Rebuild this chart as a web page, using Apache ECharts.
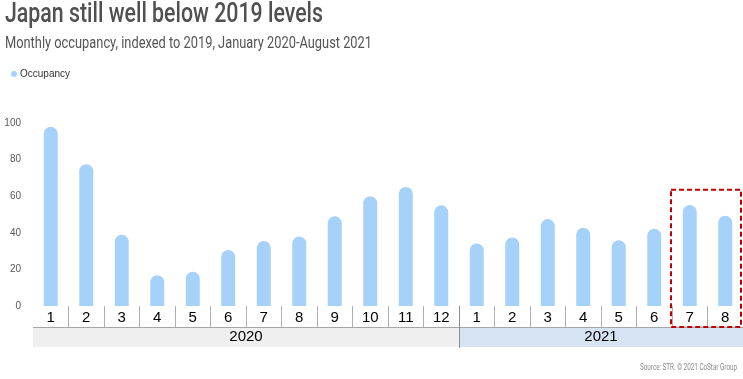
<!DOCTYPE html>
<html><head><meta charset="utf-8">
<script src="https://cdn.jsdelivr.net/npm/echarts@6/dist/echarts.min.js"></script>
<style>html,body{margin:0;padding:0;background:#fff}#c{width:743px;height:379px}</style>
</head><body><div id="c"></div>
<script>
const months = ['1','2','3','4','5','6','7','8','9','10','11','12','1','2','3','4','5','6','7','8'];
const occupancy = [98, 77.5, 39, 16.8, 18.7, 30.6, 35.5, 38, 49, 60, 65, 55, 34.2, 37.5, 47.5, 42.8, 35.9, 42.2, 55.2, 49.3];
const years = ['2020', '2021'];
const yearSpans = [[0, 11], [12, 19]];
const yearColors = ['#efefef', '#d5e3f2'];
const highlight = [18, 19];
const titleText = 'Japan still well below 2019 levels';
const subtitleText = 'Monthly occupancy, indexed to 2019, January 2020-August 2021';
const sourceText = 'Source: STR. © 2021 CoStar Group';

const chart = echarts.init(document.getElementById('c'));
const baseFont = 'Liberation Sans, sans-serif';

function measure(text, font) {
  const cv = document.createElement('canvas').getContext('2d');
  cv.font = font;
  return cv.measureText(text).width;
}

chart.setOption({
  animation: false,
  legend: {left: 6, top: 64, itemWidth: 6, itemHeight: 6, itemGap: 4, icon: 'circle',
    textStyle: {fontSize: 10, color: '#333', fontFamily: baseFont, padding: [0,0,0,-2]},
    data: ['Occupancy']},
  grid: {left: 33, right: 0, top: 123, bottom: 73},
  xAxis: {type: 'category', data: months,
    axisLine: {show: false},
    axisTick: {show: true, interval: (i) => i > 0, length: 21, lineStyle: {color: '#b0b0b0'}},
    axisLabel: {interval: 0, margin: 4, fontSize: 15, color: '#000', fontFamily: baseFont}},
  yAxis: {type: 'value', min: 0, max: 100, interval: 20,
    axisLine: {show: false}, axisTick: {show: false}, splitLine: {show: false},
    axisLabel: {margin: 12, fontSize: 10, color: '#595959', fontFamily: baseFont}},
  series: [{name: 'Occupancy', type: 'bar', data: occupancy, barWidth: 14,
    itemStyle: {color: '#a6d2f9', borderRadius: [7, 7, 0, 0]}}]
});

function scaledText(text, x, y, size, weight, fam, color, targetW, align) {
  const w = measure(text, weight + ' ' + size + 'px ' + fam);
  const s = targetW / w;
  return {type: 'text', x: x, y: y, scaleX: s, scaleY: 1,
    style: {text: text, fontSize: size, fontWeight: weight, fontFamily: fam, fill: color,
      align: align || 'left', verticalAlign: 'top'}, z: 10};
}

function buildGraphics() {
  const c0 = chart.convertToPixel({xAxisIndex: 0}, 0);
  const c1 = chart.convertToPixel({xAxisIndex: 0}, 1);
  const bw = c1 - c0;
  const y0 = chart.convertToPixel({yAxisIndex: 0}, 0);
  const bandTop = y0 + 21;
  const bandH = 20;
  const els = [];
  els.push(scaledText(titleText, 5, 2, 27, '500', 'Roboto', '#505050', 318));
  els.push(scaledText(subtitleText, 5, 35, 17, 'normal', 'Roboto', '#555', 367));
  els.push(scaledText(sourceText, 737, 363, 9, 'normal', 'Roboto', '#8a8a8a', 97, 'right'));
  years.forEach((yr, i) => {
    const x1 = chart.convertToPixel({xAxisIndex: 0}, yearSpans[i][0]) - bw / 2;
    const x2 = chart.convertToPixel({xAxisIndex: 0}, yearSpans[i][1]) + bw / 2;
    els.push({type: 'rect', shape: {x: x1, y: bandTop, width: x2 - x1, height: bandH},
      style: {fill: yearColors[i]}, z: 1});
    els.push({type: 'text', x: (x1 + x2) / 2, y: bandTop + bandH / 2,
      style: {text: yr, fill: '#000', fontSize: 15, fontFamily: baseFont,
        align: 'center', verticalAlign: 'middle'}, z: 2});
  });
  const xs = chart.convertToPixel({xAxisIndex: 0}, yearSpans[0][0]) - bw / 2;
  const xe = chart.convertToPixel({xAxisIndex: 0}, yearSpans[1][1]) + bw / 2;
  els.push({type: 'line', shape: {x1: xs, y1: bandTop + 0.5, x2: xe, y2: bandTop + 0.5},
    style: {stroke: '#a6a6a6', lineWidth: 1}, z: 3});
  const xd = Math.round(chart.convertToPixel({xAxisIndex: 0}, yearSpans[1][0]) - bw / 2) + 0.5;
  els.push({type: 'line', shape: {x1: xd, y1: y0, x2: xd, y2: bandTop + bandH + 1},
    style: {stroke: '#8c8c8c', lineWidth: 1}, z: 3});
  const hx1 = chart.convertToPixel({xAxisIndex: 0}, highlight[0]) - bw / 2 - 1;
  const hx2 = chart.convertToPixel({xAxisIndex: 0}, highlight[1]) + bw / 2 - 2;
  const hy = chart.convertToPixel({yAxisIndex: 0}, 63.5);
  els.push({type: 'rect', shape: {x: hx1, y: hy, width: hx2 - hx1, height: bandTop - hy},
    style: {fill: null, stroke: '#c00000', lineWidth: 2, lineDash: [5, 3]}, z: 5});
  chart.setOption({graphic: {elements: els}});
}
buildGraphics();
</script></body></html>
